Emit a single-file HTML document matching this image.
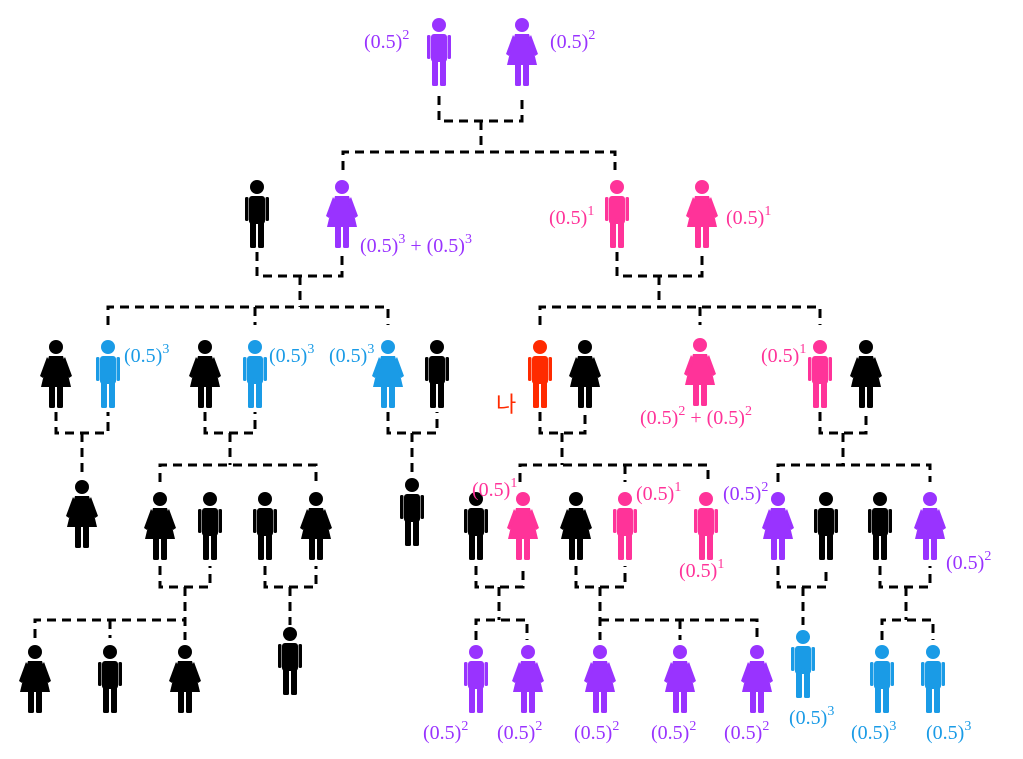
<!DOCTYPE html>
<html><head><meta charset="utf-8"><style>
html,body{margin:0;padding:0;background:#fff;}
svg{display:block;}
text{font-family:"Liberation Serif",serif;font-size:20px;}
.s{font-size:14px;}
</style></head><body>
<svg width="1023" height="759" viewBox="0 0 1023 759" xmlns="http://www.w3.org/2000/svg">
<defs>
<g id="m">
<circle cx="0" cy="7" r="7"/>
<rect x="-8" y="16" width="16" height="28" rx="3"/>
<rect x="-12" y="17" width="3.5" height="24" rx="1.5"/>
<rect x="8.5" y="17" width="3.5" height="24" rx="1.5"/>
<rect x="-7" y="38" width="6" height="30" rx="1.5"/>
<rect x="1" y="38" width="6" height="30" rx="1.5"/>
</g>
<g id="f">
<circle cx="0" cy="7" r="7"/>
<polygon points="-7,16 7,16 10,26 15,47 -15,47 -10,26"/>
<polygon points="-9,17 -16,36 -13,38 -6,22"/>
<polygon points="9,17 16,36 13,38 6,22"/>
<rect x="-7" y="44" width="6" height="24" rx="1.5"/>
<rect x="1" y="44" width="6" height="24" rx="1.5"/>
</g>
</defs>

<g fill="none" stroke="#000" stroke-width="3" stroke-dasharray="9 6">
<path d="M439 96V121H522V96M481 121V152M343 170V152H615V170"/>
<path d="M257 252V276H342V252M300 276V307M108 325V307H388V325M255 307V325"/>
<path d="M617 252V276H702V252M659 276V307M540 325V307H820V325M700 307V325"/>
<path d="M56 412V433H108V412M82 433V472"/>
<path d="M205 412V433H255V412M230 433V465M160 482V465H316V482"/>
<path d="M388 412V433H437V412M412 433V472"/>
<path d="M540 412V433H585V412M562 433V465M520 482V465H708V482M625 465V482"/>
<path d="M820 412V433H866V412M843 433V465M778 482V465H930V482"/>
<path d="M160 566V587H210V566M185 587V640M35 638V620H185M110 620V638"/>
<path d="M265 566V587H316V566M290 587V625"/>
<path d="M476 566V587H523V566M499 587V620M476 640V620H527V640"/>
<path d="M576 566V587H625V566M600 587V640M600 620H757V640M680 620V640"/>
<path d="M778 566V587H826V566M803 587V625"/>
<path d="M880 566V587H930V566M906 587V620M882 640V620H933V640"/>
</g>

<use href="#m" x="439" y="18" fill="#9933ff"/>
<use href="#f" x="522" y="18" fill="#9933ff"/>
<use href="#m" x="257" y="180" fill="#000"/>
<use href="#f" x="342" y="180" fill="#9933ff"/>
<use href="#m" x="617" y="180" fill="#ff3399"/>
<use href="#f" x="702" y="180" fill="#ff3399"/>
<use href="#f" x="56" y="340" fill="#000"/>
<use href="#m" x="108" y="340" fill="#1a9be6"/>
<use href="#f" x="205" y="340" fill="#000"/>
<use href="#m" x="255" y="340" fill="#1a9be6"/>
<use href="#f" x="388" y="340" fill="#1a9be6"/>
<use href="#m" x="437" y="340" fill="#000"/>
<use href="#m" x="540" y="340" fill="#ff2a00"/>
<use href="#f" x="585" y="340" fill="#000"/>
<use href="#f" x="700" y="338" fill="#ff3399"/>
<use href="#m" x="820" y="340" fill="#ff3399"/>
<use href="#f" x="866" y="340" fill="#000"/>
<use href="#f" x="82" y="480" fill="#000"/>
<use href="#f" x="160" y="492" fill="#000"/>
<use href="#m" x="210" y="492" fill="#000"/>
<use href="#m" x="265" y="492" fill="#000"/>
<use href="#f" x="316" y="492" fill="#000"/>
<use href="#m" x="412" y="478" fill="#000"/>
<use href="#m" x="476" y="492" fill="#000"/>
<use href="#f" x="523" y="492" fill="#ff3399"/>
<use href="#f" x="576" y="492" fill="#000"/>
<use href="#m" x="625" y="492" fill="#ff3399"/>
<use href="#m" x="706" y="492" fill="#ff3399"/>
<use href="#f" x="778" y="492" fill="#9933ff"/>
<use href="#m" x="826" y="492" fill="#000"/>
<use href="#m" x="880" y="492" fill="#000"/>
<use href="#f" x="930" y="492" fill="#9933ff"/>
<use href="#f" x="35" y="645" fill="#000"/>
<use href="#m" x="110" y="645" fill="#000"/>
<use href="#f" x="185" y="645" fill="#000"/>
<use href="#m" x="290" y="627" fill="#000"/>
<use href="#m" x="476" y="645" fill="#9933ff"/>
<use href="#f" x="528" y="645" fill="#9933ff"/>
<use href="#f" x="600" y="645" fill="#9933ff"/>
<use href="#f" x="680" y="645" fill="#9933ff"/>
<use href="#f" x="757" y="645" fill="#9933ff"/>
<use href="#m" x="803" y="630" fill="#1a9be6"/>
<use href="#m" x="882" y="645" fill="#1a9be6"/>
<use href="#m" x="933" y="645" fill="#1a9be6"/>

<g fill="#9933ff">
<text x="364" y="48">(0.5)<tspan class="s" dy="-9">2</tspan></text>
<text x="550" y="48">(0.5)<tspan class="s" dy="-9">2</tspan></text>
<text x="360" y="252">(0.5)<tspan class="s" dy="-9">3</tspan><tspan dy="9"> + (0.5)</tspan><tspan class="s" dy="-9">3</tspan></text>
<text x="723" y="500">(0.5)<tspan class="s" dy="-9">2</tspan></text>
<text x="946" y="569">(0.5)<tspan class="s" dy="-9">2</tspan></text>
<text x="423" y="739">(0.5)<tspan class="s" dy="-9">2</tspan></text>
<text x="497" y="739">(0.5)<tspan class="s" dy="-9">2</tspan></text>
<text x="574" y="739">(0.5)<tspan class="s" dy="-9">2</tspan></text>
<text x="651" y="739">(0.5)<tspan class="s" dy="-9">2</tspan></text>
<text x="724" y="739">(0.5)<tspan class="s" dy="-9">2</tspan></text>
</g>
<g fill="#ff3399">
<text x="549" y="224">(0.5)<tspan class="s" dy="-9">1</tspan></text>
<text x="726" y="224">(0.5)<tspan class="s" dy="-9">1</tspan></text>
<text x="640" y="424">(0.5)<tspan class="s" dy="-9">2</tspan><tspan dy="9"> + (0.5)</tspan><tspan class="s" dy="-9">2</tspan></text>
<text x="761" y="362">(0.5)<tspan class="s" dy="-9">1</tspan></text>
<text x="472" y="496">(0.5)<tspan class="s" dy="-9">1</tspan></text>
<text x="636" y="500">(0.5)<tspan class="s" dy="-9">1</tspan></text>
<text x="679" y="577">(0.5)<tspan class="s" dy="-9">1</tspan></text>
</g>
<g fill="#1a9be6">
<text x="124" y="362">(0.5)<tspan class="s" dy="-9">3</tspan></text>
<text x="269" y="362">(0.5)<tspan class="s" dy="-9">3</tspan></text>
<text x="329" y="362">(0.5)<tspan class="s" dy="-9">3</tspan></text>
<text x="789" y="724">(0.5)<tspan class="s" dy="-9">3</tspan></text>
<text x="851" y="739">(0.5)<tspan class="s" dy="-9">3</tspan></text>
<text x="926" y="739">(0.5)<tspan class="s" dy="-9">3</tspan></text>
</g>
<text x="496" y="412" fill="#ff2a00" style="font-family:'Noto Sans CJK KR',sans-serif;font-size:22px">나</text>
</svg>
</body></html>
